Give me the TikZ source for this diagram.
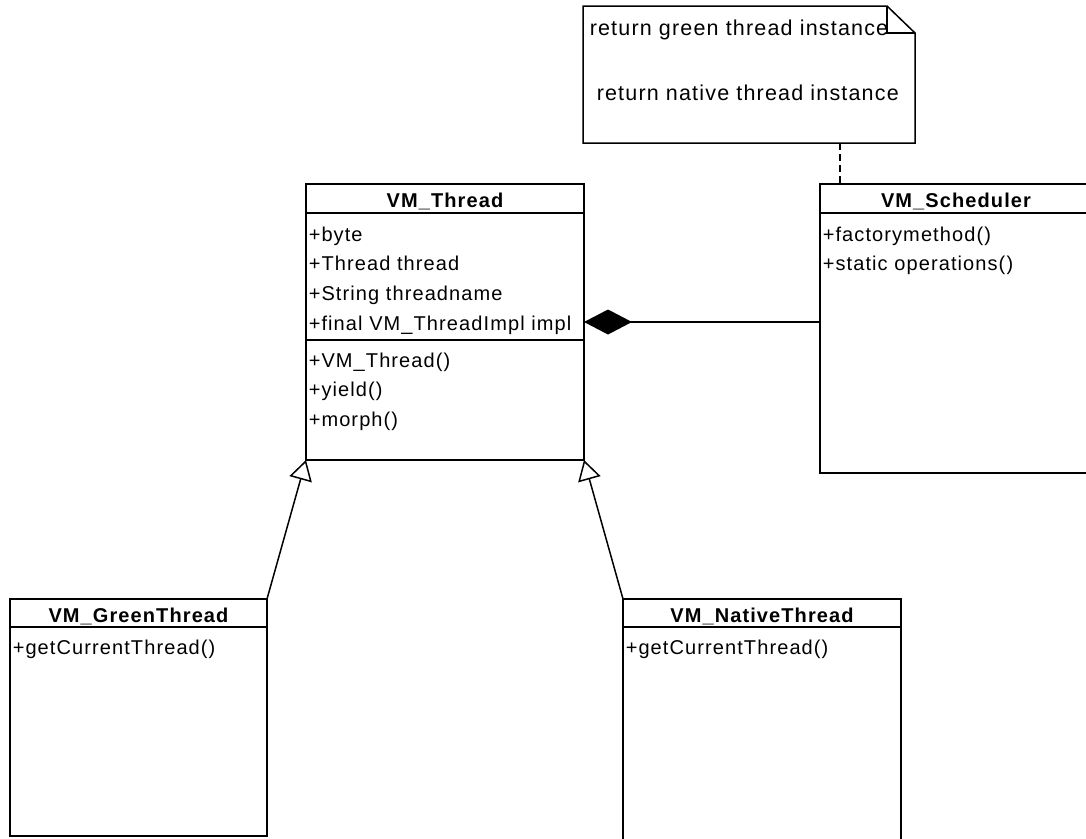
\documentclass[tikz,border=0pt]{standalone}
\usepackage{fontspec}
\setmainfont{Liberation Sans}[LetterSpace=5.5]
\usetikzlibrary{arrows.meta}

\begin{document}
\begin{tikzpicture}[x=1pt, y=-1pt, line width=1.5pt,
  classbox/.style={draw, anchor=north west, inner sep=0pt, outer sep=0pt},
  member/.style={anchor=base west, inner sep=0pt, font=\fontsize{20}{24}\selectfont},
  classname/.style={anchor=base, inner sep=0pt, font=\fontsize{20}{24}\selectfont\bfseries},
  notetext/.style={anchor=base west, inner sep=0pt, font=\fontsize{21.5}{26}\selectfont},
  generalize/.style={-{Triangle[open, length=20pt, width=23pt, fill=white]}},
  compose/.style={-{Diamond[length=48pt, width=25pt]}},
  anchorline/.style={dash pattern=on 7pt off 4pt}]

\useasboundingbox (0,0) rectangle (1086,838);
\clip (0,0) rectangle (1086,838);

% note with folded corner
\draw (583,6) -- (887,6) -- (915,33) -- (915,143) -- (583,143) -- cycle;
\draw (887,6) -- (887,33) -- (915,33);
\node[notetext] (note1) at (589,35) {return green thread instance};
\node[notetext] (note2) at (596,100) {return native thread instance};
\coordinate (notefoot) at (840,143);

% VM_Thread
\node[classbox, minimum width=278pt, minimum height=276pt] (thread) at (306,184) {};
\draw (306,213) -- (584,213);
\draw (306,340) -- (584,340);
\node[classname] (threadname) at (445,207) {VM\_Thread};
\node[member] (t1) at (308,241) {+byte};
\node[member] (t2) at (308,270.7) {+Thread thread};
\node[member] (t3) at (308,300.4) {+String threadname};
\node[member] (t4) at (308,330.1) {+final VM\_ThreadImpl impl};
\node[member] (t5) at (308,367) {+VM\_Thread()};
\node[member] (t6) at (308,396.7) {+yield()};
\node[member] (t7) at (308,426.4) {+morph()};

% VM_Scheduler
\node[classbox, minimum width=272pt, minimum height=289pt] (sched) at (820,184) {};
\draw (820,213) -- (1092,213);
\node[classname] (schedname) at (956,207) {VM\_Scheduler};
\node[member] (s1) at (822,241) {+factorymethod()};
\node[member] (s2) at (822,270.7) {+static operations()};

% VM_GreenThread
\node[classbox, minimum width=257pt, minimum height=237pt] (green) at (10,599) {};
\draw (10,627) -- (267,627);
\node[classname] (greenname) at (138.5,622) {VM\_GreenThread};
\node[member] (g1) at (12,654) {+getCurrentThread()};

% VM_NativeThread
\node[classbox, minimum width=278pt, minimum height=250pt] (native) at (623,599) {};
\draw (623,627) -- (901,627);
\node[classname] (nativename) at (762,622) {VM\_NativeThread};
\node[member] (n1) at (625,654) {+getCurrentThread()};

% relations
\draw[generalize] (green.north east) -- (thread.south west);
\draw[generalize] (native.north west) -- (thread.south east);
\draw[compose] (thread.east -| sched.west) -- (thread.east);
\draw[anchorline] (notefoot) -- (notefoot |- sched.north);

\end{tikzpicture}
\end{document}
